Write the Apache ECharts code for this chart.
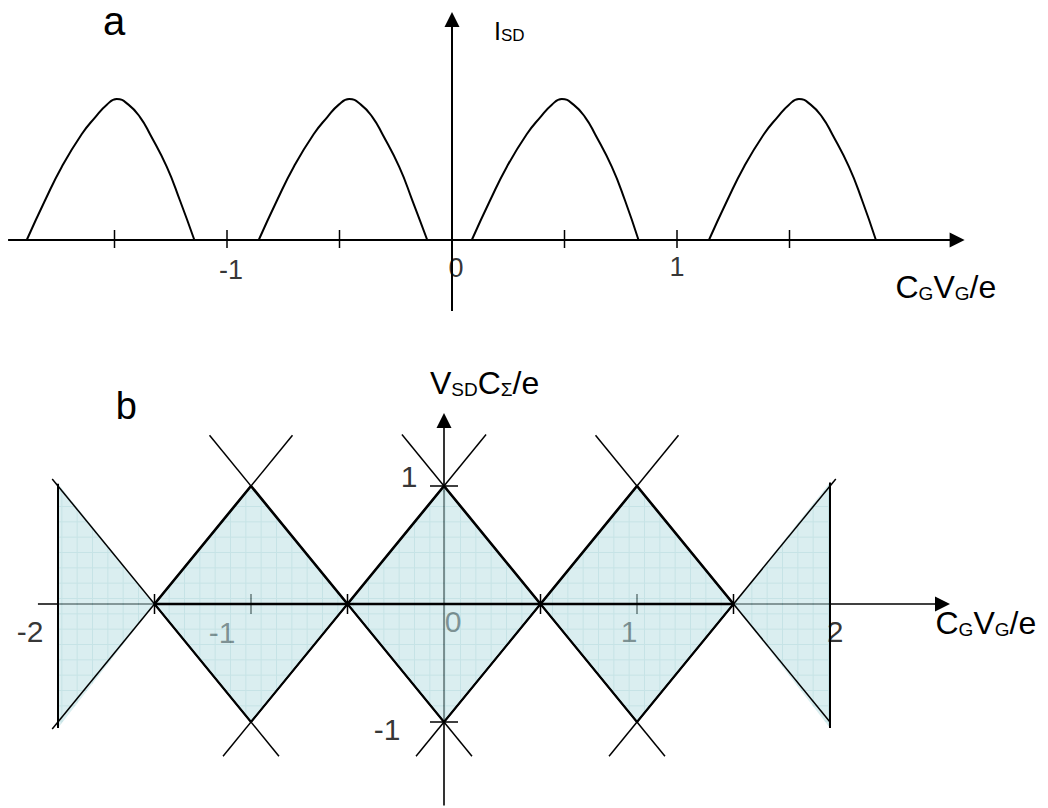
<!DOCTYPE html>
<html>
<head>
<meta charset="utf-8">
<script src="https://cdn.jsdelivr.net/npm/echarts@6/dist/echarts.min.js"></script>
<style>
  html, body { margin: 0; padding: 0; background: #fff; }
  #chart { width: 1048px; height: 808px; }
</style>
</head>
<body>
<div id="chart"></div>
<script>
// ---------- (a) source-drain current peaks vs. gate charge ----------
const peak1 = [[-1.890,0],[-1.809,0.28],[-1.734,0.52],[-1.646,0.75],[-1.586,0.87],[-1.534,0.96],[-1.490,1.00],[-1.438,0.96],[-1.386,0.87],[-1.342,0.75],[-1.268,0.52],[-1.209,0.28],[-1.145,0]];
const peak2 = [[-0.859,0],[-0.778,0.28],[-0.703,0.52],[-0.615,0.75],[-0.555,0.87],[-0.503,0.96],[-0.457,1.00],[-0.405,0.96],[-0.353,0.87],[-0.309,0.75],[-0.235,0.52],[-0.176,0.28],[-0.110,0]];
const peak3 = [[0.088,0],[0.169,0.28],[0.244,0.52],[0.332,0.75],[0.392,0.87],[0.444,0.96],[0.488,1.00],[0.540,0.96],[0.592,0.87],[0.636,0.75],[0.710,0.52],[0.769,0.28],[0.829,0]];
const peak4 = [[1.142,0],[1.223,0.28],[1.298,0.52],[1.386,0.75],[1.446,0.87],[1.498,0.96],[1.542,1.00],[1.594,0.96],[1.646,0.87],[1.690,0.75],[1.764,0.52],[1.823,0.28],[1.884,0]];

const axisAx = [-1.973, 2.245];   // horizontal axis extent (arrow at the end)
const axisAy = [-0.504, 1.564];   // vertical axis extent (arrow at the end)
const ticksA = [-1.5, -1, -0.5, 0.5, 1, 1.5];
const tickLabelsA = [[-1, '-1'], [0, '0'], [1, '1']];

// ---------- (b) Coulomb diamonds ----------
const blockadeRegions = [
  [[-2, 1.02], [-1.5, 0], [-2, -1.05]],
  [[-1.5, 0], [-1, 1], [-0.5, 0], [-1, -1]],
  [[-0.5, 0], [0, 1], [0.5, 0], [0, -1]],
  [[0.5, 0], [1, 1], [1.5, 0], [1, -1]],
  [[1.5, 0], [2, 1.03], [2, -1.05]]
];
const edgeRays = [
  [[-2.03, -1.06], [-0.785, 1.43]],
  [[-1.145, -1.29], [0.218, 1.436]],
  [[-0.145, -1.29], [1.215, 1.43]],
  [[0.855, -1.29], [2.03, 1.06]],
  [[-2.03, 1.06], [-0.855, -1.29]],
  [[-1.215, 1.43], [0.145, -1.29]],
  [[-0.218, 1.436], [1.145, -1.29]],
  [[0.785, 1.43], [2.0, -1.0]]
];
const upperEdge = [[-1.5, 0], [-1, 1], [-0.5, 0], [0, 1], [0.5, 0], [1, 1], [1.5, 0]];
const lowerEdge = [[-1.5, 0], [-1, -1], [-0.5, 0], [0, -1], [0.5, 0], [1, -1], [1.5, 0]];
const midEdge = [[-1.5, 0], [1.5, 0]];
const sideEdges = [[[-2, 1.02], [-2, -1.05]], [[2, 1.03], [2, -1.05]]];

const axisBx = [-2.104, 2.583];
const axisBy = [-1.75, 1.555];
const ticksBx = [-2, -1.5, -1, -0.5, 0.5, 1, 1.5, 2];
const ticksBy = [-1, 1];
const tickLabelsBx = [[-2, '-2'], [-1, '-1'], [0, '0'], [1, '1'], [2, '2']];
const tickLabelsBy = [[1, '1'], [-1, '-1']];

const FONT = '"Liberation Sans", Arial, Helvetica, sans-serif';

// light cyan hatch with a fine square grid, used for the blockade regions
function hatchCanvas() {
  const n = 46;
  const c = document.createElement('canvas');
  c.width = n; c.height = n;
  const g = c.getContext('2d');
  g.fillStyle = 'rgb(187,224,227)';
  g.fillRect(0, 0, n, n);
  g.strokeStyle = 'rgb(150,204,208)';
  g.lineWidth = 1;
  [0.5, 15.83, 31.17].forEach(t => {
    g.beginPath(); g.moveTo(t, 0); g.lineTo(t, n); g.stroke();
    g.beginPath(); g.moveTo(0, t); g.lineTo(n, t); g.stroke();
  });
  return c;
}
const hatch = { image: hatchCanvas(), repeat: 'repeat', imageWidth: 46, imageHeight: 46 };

const chart = echarts.init(document.getElementById('chart'), null, { renderer: 'svg' });

function axisLines(xs, ys, width, gi, z) {
  return {
    type: 'lines', coordinateSystem: 'cartesian2d', xAxisIndex: gi, yAxisIndex: gi, z: z,
    silent: true, symbol: ['none', 'triangle'], symbolSize: 15,
    lineStyle: { color: '#000', width: width, opacity: 1, curveness: 0 },
    itemStyle: { color: '#000' },
    data: [{ coords: [[xs[0], 0], [xs[1], 0]] }, { coords: [[0, ys[0]], [0, ys[1]]] }]
  };
}

function tickSeries(values, vertical, up, down, gi, z) {
  return {
    type: 'custom', coordinateSystem: 'cartesian2d', xAxisIndex: gi, yAxisIndex: gi, z: z, silent: true,
    data: values.map(v => vertical ? [v, 0] : [0, v]),
    renderItem: (params, api) => {
      const p = api.coord([api.value(0), api.value(1)]);
      const shape = vertical
        ? { x1: p[0], y1: p[1] - up, x2: p[0], y2: p[1] + down }
        : { x1: p[0] - up, y1: p[1], x2: p[0] + down, y2: p[1] };
      return { type: 'line', shape: shape, style: { stroke: '#000', lineWidth: 1.5 } };
    }
  };
}

function labelSeries(items, onX, offsets, size, gi, z) {
  return {
    type: 'scatter', xAxisIndex: gi, yAxisIndex: gi, z: z, silent: true,
    symbolSize: 0.1, itemStyle: { color: 'transparent' },
    label: { show: true, position: 'inside', color: '#000', fontSize: size,
             fontFamily: FONT, fontWeight: 'normal', formatter: p => p.name },
    data: items.map(([v, txt]) => ({
      name: txt,
      value: onX ? [v, 0] : [0, v],
      label: { offset: offsets[txt] }
    }))
  };
}

function peakSeries(data) {
  return {
    type: 'line', xAxisIndex: 0, yAxisIndex: 0, data: data, smooth: 0.5,
    showSymbol: false, symbol: 'none', silent: true, z: 3,
    lineStyle: { color: '#000', width: 2 }
  };
}

function edgeLine(data, width) {
  return {
    type: 'line', xAxisIndex: 1, yAxisIndex: 1, data: data, smooth: false,
    showSymbol: false, symbol: 'none', silent: true, z: 3,
    lineStyle: { color: '#000', width: width }
  };
}

const sub = (size, lh) => ({ fontFamily: FONT, fontSize: size, fontWeight: 'normal', lineHeight: lh, verticalAlign: 'bottom', color: '#000' });
const main = (size) => ({ fontFamily: FONT, fontSize: size, fontWeight: 'normal', lineHeight: size, verticalAlign: 'middle', color: '#000' });
const plain = { fontFamily: FONT, fontWeight: 'normal', color: '#000' };

const option = {
  animation: false,
  backgroundColor: '#fff',
  title: [
    { text: 'a', left: 103, top: 1, padding: 0,
      textStyle: Object.assign({ fontSize: 40 }, plain) },
    { text: '{m|I}{s|SD}', left: 494, top: 18.5, padding: 0,
      textStyle: Object.assign({ rich: { m: main(25), s: sub(17, 10) } }, plain) },
    { text: '{m|C}{s|G}{m|V}{s|G}{m|/e}', left: 895.5, top: 271, padding: 0,
      textStyle: Object.assign({ rich: { m: main(32), s: sub(19, 14) } }, plain) },
    { text: 'b', left: 115.7, top: 386.8, padding: 0,
      textStyle: Object.assign({ fontSize: 38 }, plain) },
    { text: '{m|V}{s|SD}{m|C}{s|Σ}{m|/e}', left: 430, top: 367, padding: 0,
      textStyle: Object.assign({ rich: { m: main(32), s: sub(19, 14) } }, plain) },
    { text: '{m|C}{s|G}{m|V}{s|G}{m|/e}', left: 935.5, top: 607, padding: 0,
      textStyle: Object.assign({ rich: { m: main(32), s: sub(19, 14) } }, plain) }
  ],
  grid: [
    { left: 2, right: 33.5, top: 0.3, bottom: 483.4, containLabel: false, outerBoundsMode: 'none' },
    { left: 19.4, right: 5.7, top: 332.6, bottom: 3.4, containLabel: false, outerBoundsMode: 'none' }
  ],
  xAxis: [
    { type: 'value', gridIndex: 0, min: -2, max: 2.5, show: false },
    { type: 'value', gridIndex: 1, min: -2.2, max: 3.1, show: false }
  ],
  yAxis: [
    { type: 'value', gridIndex: 0, min: -0.6, max: 1.7, show: false },
    { type: 'value', gridIndex: 1, min: -1.7, max: 2.3, show: false }
  ],
  series: [
    // panel a
    axisLines(axisAx, axisAy, 2, 0, 1),
    tickSeries(ticksA, true, 10, 8, 0, 1),
    labelSeries(tickLabelsA, true, { '-1': [4, 30], '0': [4, 28], '1': [0, 27] }, 27, 0, 1),
    peakSeries(peak1), peakSeries(peak2), peakSeries(peak3), peakSeries(peak4),

    // panel b: axes and labels sit beneath the translucent blockade fill
    axisLines(axisBx, axisBy, 1.6, 1, 1),
    tickSeries(ticksBx, true, 10, 10, 1, 1),
    tickSeries(ticksBy, false, 14, 14, 1, 1),
    labelSeries(tickLabelsBx, true, { '-2': [-28, 27], '-1': [-29, 28], '0': [9, 17], '1': [-8, 27], '2': [5, 27] }, 30, 1, 1),
    labelSeries(tickLabelsBy, false, { '1': [-35, -10], '-1': [-57, 7] }, 30, 1, 1),
    {
      type: 'custom', coordinateSystem: 'cartesian2d', xAxisIndex: 1, yAxisIndex: 1, z: 2, silent: true,
      data: blockadeRegions.map(r => r[0]),
      renderItem: (params, api) => ({
        type: 'polygon',
        shape: { points: blockadeRegions[params.dataIndex].map(p => api.coord(p)) },
        style: { fill: hatch, opacity: 0.54 }
      })
    },
    {
      type: 'lines', coordinateSystem: 'cartesian2d', xAxisIndex: 1, yAxisIndex: 1, z: 3, silent: true,
      lineStyle: { color: '#000', width: 1.5, opacity: 1, curveness: 0 },
      data: edgeRays.map(s => ({ coords: s }))
    },
    {
      type: 'lines', coordinateSystem: 'cartesian2d', xAxisIndex: 1, yAxisIndex: 1, z: 3, silent: true,
      lineStyle: { color: '#000', width: 2, opacity: 1, curveness: 0 },
      data: sideEdges.map(s => ({ coords: s }))
    },
    edgeLine(upperEdge, 2.6),
    edgeLine(lowerEdge, 2.1),
    edgeLine(midEdge, 2.6)
  ]
};

chart.setOption(option);
</script>
</body>
</html>
